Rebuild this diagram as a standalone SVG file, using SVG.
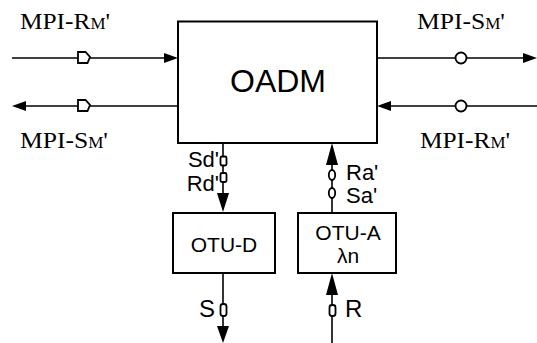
<svg xmlns="http://www.w3.org/2000/svg" width="537" height="343" viewBox="0 0 537 343">
<style>
.box{fill:#fff;stroke:#000;stroke-width:2}
.ln{stroke:#000;stroke-width:1.6;fill:none}
.ah{fill:#000;stroke:none}
.cn{fill:#fff;stroke:#000;stroke-width:1.8}
.serif{font-family:"Liberation Serif","Times New Roman",serif;font-size:24px;fill:#000}
.sub{font-size:16px}
.sans{font-family:"Liberation Sans",Arial,sans-serif;fill:#000}
</style>
<g id="connectors">
  <line class="ln" x1="12" y1="58" x2="166" y2="58"/>
  <polygon class="ah" points="178,58 164,53 164,63"/>
  <path class="cn" d="M78,52 L85.5,52 L90,57 L87.5,63 L78,63 Z"/>
  <line class="ln" x1="24" y1="106" x2="178" y2="106"/>
  <polygon class="ah" points="12,106 26,101 26,111"/>
  <path class="cn" d="M78,100 L85.5,100 L90,105 L87.5,111 L78,111 Z"/>
  <line class="ln" x1="377" y1="58" x2="525" y2="58"/>
  <polygon class="ah" points="537,58 523,53 523,63"/>
  <ellipse class="cn" cx="461" cy="58" rx="5.5" ry="5.5"/>
  <line class="ln" x1="389" y1="106" x2="537" y2="106"/>
  <polygon class="ah" points="377,106 391,101 391,111"/>
  <ellipse class="cn" cx="461" cy="106" rx="5.5" ry="5.5"/>
  <line class="ln" x1="223" y1="143" x2="223" y2="195"/>
  <polygon class="ah" points="223,212 217,193 229,193"/>
  <rect class="cn" x="220.5" y="156.5" width="6" height="9" rx="1.5"/>
  <rect class="cn" x="220.5" y="173" width="6" height="9" rx="1.5"/>
  <line class="ln" x1="332" y1="162" x2="332" y2="213"/>
  <polygon class="ah" points="332,143 326,165 338,165"/>
  <ellipse class="cn" cx="332" cy="175" rx="3.2" ry="5"/>
  <ellipse class="cn" cx="332" cy="193" rx="3.2" ry="5"/>
  <line class="ln" x1="223" y1="273" x2="223" y2="330"/>
  <polygon class="ah" points="223,343 217,326 229,326"/>
  <rect class="cn" x="220.5" y="304" width="6" height="12" rx="2.5"/>
  <line class="ln" x1="332" y1="292" x2="332" y2="343"/>
  <polygon class="ah" points="332,273 326,295 338,295"/>
  <rect class="cn" x="329.5" y="305" width="6" height="11" rx="2.5"/>
</g>
<g id="oadm">
  <rect class="box" x="178" y="21.5" width="199" height="121.5"/>
  <text class="sans" x="278" y="92" font-size="32" text-anchor="middle">OADM</text>
</g>
<g id="otu-d">
  <rect class="box" x="173" y="213" width="102" height="60"/>
  <text class="sans" x="224" y="252" font-size="21" text-anchor="middle">OTU-D</text>
</g>
<g id="otu-a">
  <rect class="box" x="298" y="213" width="98" height="60"/>
  <text class="sans" x="348" y="240" font-size="21" text-anchor="middle">OTU-A</text>
  <text class="sans" x="348" y="263" font-size="21" text-anchor="middle">λn</text>
</g>
<g id="labels">
  <text class="serif" x="20" y="29" textLength="90" lengthAdjust="spacingAndGlyphs">MPI-R<tspan class="sub">M</tspan>'</text>
  <text class="serif" x="20" y="148" textLength="88" lengthAdjust="spacingAndGlyphs">MPI-S<tspan class="sub">M</tspan>'</text>
  <text class="serif" x="417" y="29" textLength="88" lengthAdjust="spacingAndGlyphs">MPI-S<tspan class="sub">M</tspan>'</text>
  <text class="serif" x="420" y="148" textLength="90" lengthAdjust="spacingAndGlyphs">MPI-R<tspan class="sub">M</tspan>'</text>
  <text class="sans" x="219" y="167" font-size="22" text-anchor="end">Sd'</text>
  <text class="sans" x="219" y="191" font-size="22" text-anchor="end">Rd'</text>
  <text class="sans" x="346" y="180" font-size="22">Ra'</text>
  <text class="sans" x="346" y="203" font-size="22">Sa'</text>
  <text class="sans" x="215" y="317" font-size="24" text-anchor="end">S</text>
  <text class="sans" x="345" y="317" font-size="24">R</text>
</g>
</svg>
